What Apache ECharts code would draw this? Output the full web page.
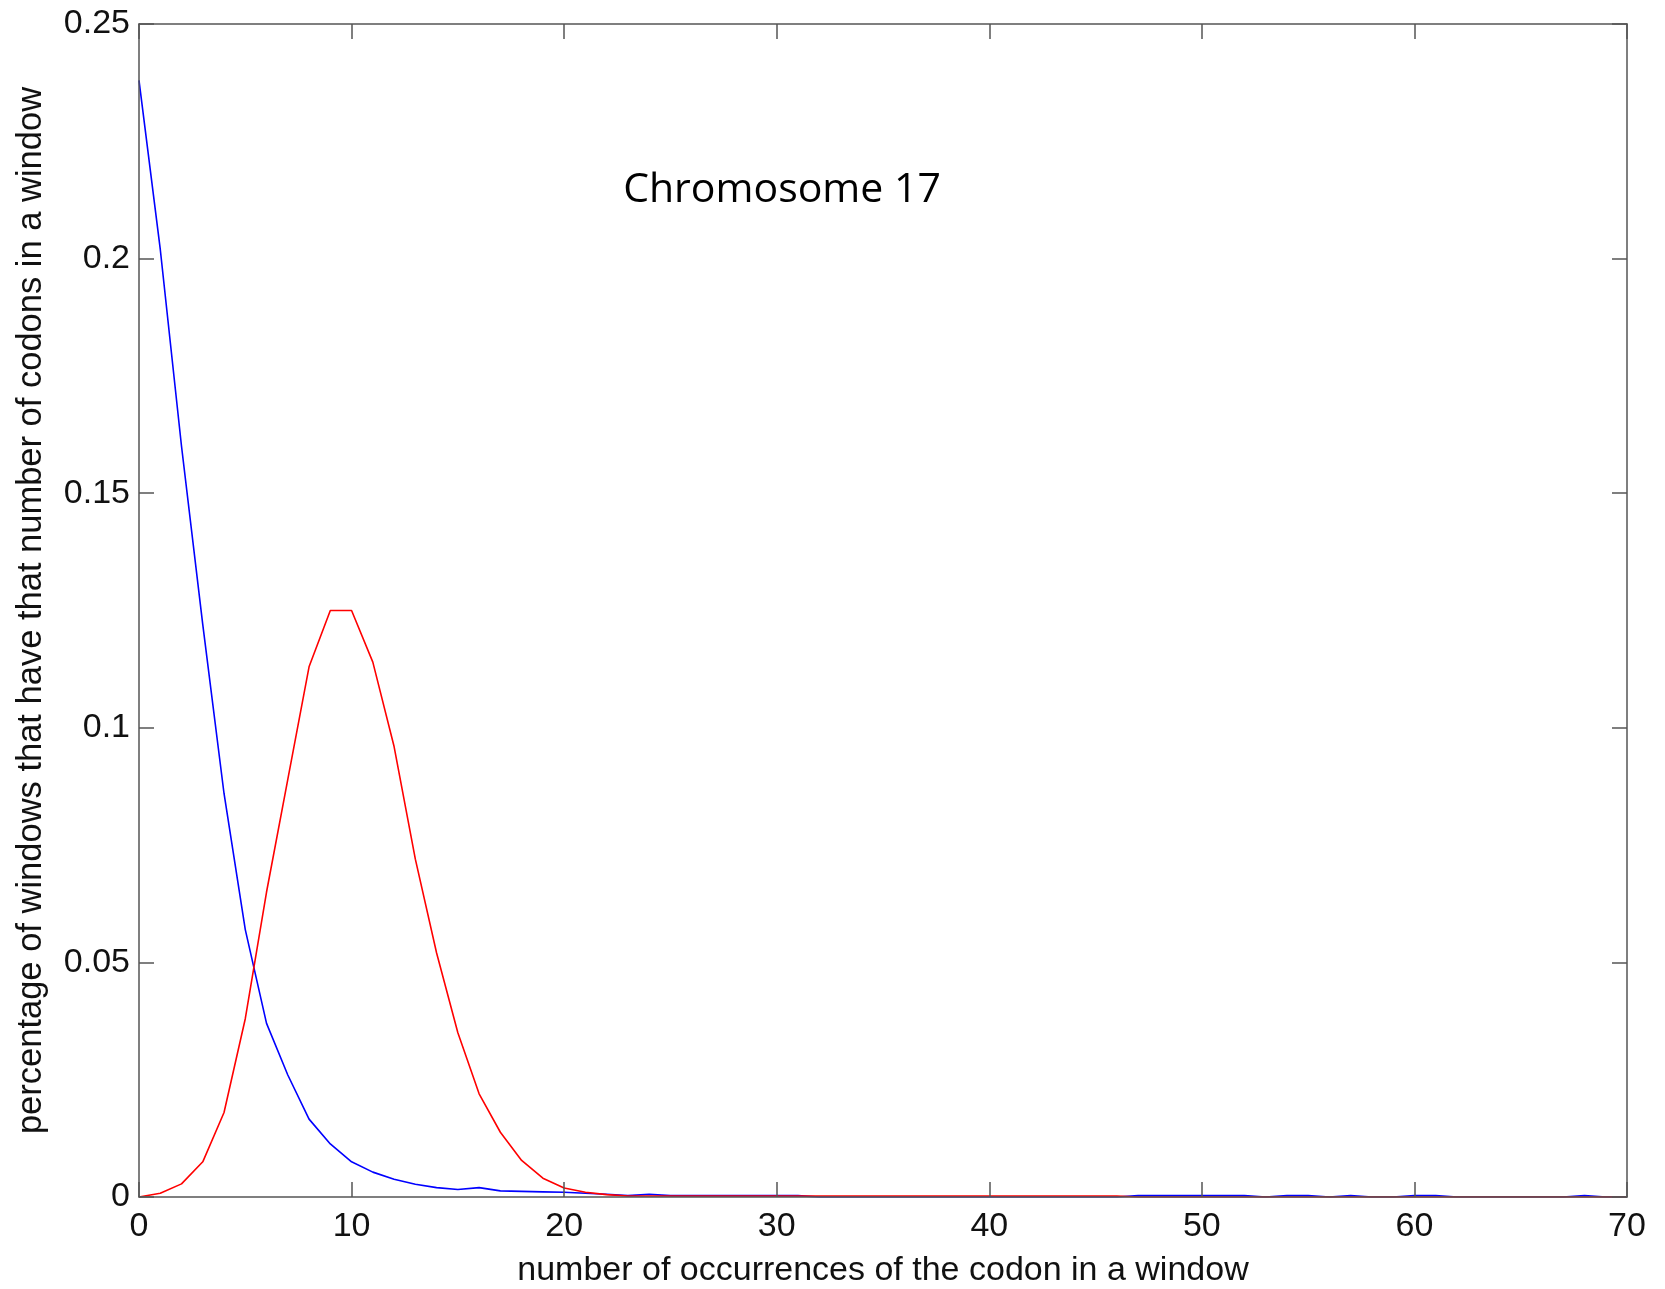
<!DOCTYPE html>
<html>
<head>
<meta charset="utf-8">
<script src="https://cdn.jsdelivr.net/npm/echarts@6/dist/echarts.min.js"></script>
<style>
  html, body { margin: 0; padding: 0; background: #fff; }
  #chart { width: 1665px; height: 1289px; }
</style>
</head>
<body>
<div id="chart"></div>
<script>
// number of occurrences of the codon in a window (x)
var counts = [
  0, 1, 2, 3, 4, 5, 6, 7, 8, 9, 10, 11, 12, 13, 14, 15, 16, 17, 18, 19,
  20, 21, 22, 23, 24, 25, 26, 27, 28, 29, 30, 31, 32, 33, 34, 35, 36, 37, 38, 39,
  40, 41, 42, 43, 44, 45, 46, 47, 48, 49, 50, 51, 52, 53, 54, 55, 56, 57, 58, 59,
  60, 61, 62, 63, 64, 65, 66, 67, 68, 69, 70
];

// blue curve
var blueValues = [
  0.238, 0.202, 0.160, 0.122, 0.086, 0.057, 0.037, 0.026, 0.0166, 0.0113,
  0.0075, 0.0053, 0.0038, 0.0027, 0.0020, 0.0016, 0.0020, 0.0013, 0.0012, 0.0011,
  0.0010, 0.0008, 0.0006, 0.0003, 0.0006, 0.0003, 0.0003, 0.0003, 0.0003, 0.0003,
  0.0003, 0.0003, 0, 0, 0, 0, 0, 0, 0, 0,
  0, 0, 0, 0, 0, 0, 0, 0.0003, 0.0003, 0.0003,
  0.0003, 0.0003, 0.0003, 0, 0.0003, 0.0003, 0, 0.0003, 0, 0,
  0.0003, 0.0003, 0, 0, 0, 0, 0, 0, 0.0003, 0,
  0
];

// red curve
var redValues = [
  0, 0.0008, 0.0028, 0.0075, 0.018, 0.038, 0.065, 0.089, 0.113, 0.125,
  0.125, 0.114, 0.096, 0.072, 0.052, 0.035, 0.022, 0.0138, 0.0078, 0.0040,
  0.0019, 0.0010, 0.0005, 0.0002, 0.0002, 0.0002, 0.0002, 0.0002, 0.0002, 0.0002,
  0.0002, 0.0002, 0.0002, 0.0002, 0.0002, 0.0002, 0.0002, 0.0002, 0.0002, 0.0002,
  0.0002, 0.0002, 0.0002, 0.0002, 0.0002, 0.0002, 0.0002, 0, 0, 0,
  0, 0, 0, 0, 0, 0, 0, 0, 0, 0,
  0, 0, 0, 0, 0, 0, 0, 0, 0, 0,
  0
];

var xTickLabels = ['0', '10', '20', '30', '40', '50', '60', '70'];
var yTickLabels = ['0', '0.05', '0.1', '0.15', '0.2', '0.25'];

function pairs(values) {
  return counts.map(function (c, i) { return [c, values[i]]; });
}

var axisColor = '#555';
var labelFont = 'Liberation Sans, Arial, sans-serif';
var boxLine = { onZero: false, lineStyle: { color: axisColor, width: 1.5 } };
var boxTick = { inside: true, length: 15, lineStyle: { color: axisColor, width: 1.5 } };

var chart = echarts.init(document.getElementById('chart'));

chart.setOption({
  animation: false,
  backgroundColor: '#fff',
  grid: {
    left: 139, right: 38, top: 24, bottom: 92,
    containLabel: false, outerBoundsMode: 'none'
  },
  xAxis: [
    {
      type: 'value', position: 'bottom', min: 0, max: 70, interval: 10, z: 5,
      name: 'number of occurrences of the codon in a window',
      nameLocation: 'middle', nameGap: 57,
      nameTextStyle: { fontFamily: labelFont, fontSize: 34, color: '#111' },
      axisLine: boxLine,
      axisTick: boxTick,
      axisLabel: {
        margin: 13, fontFamily: labelFont, fontSize: 34, color: '#111',
        formatter: function (v) { return xTickLabels[Math.round(v / 10)]; }
      },
      splitLine: { show: false }
    },
    {
      type: 'value', position: 'top', min: 0, max: 70, interval: 10, z: 5,
      axisLine: boxLine,
      axisTick: boxTick,
      axisLabel: { show: false },
      splitLine: { show: false }
    }
  ],
  yAxis: [
    {
      type: 'value', position: 'left', min: 0, max: 0.25, interval: 0.05, z: 5,
      name: 'percentage of windows that have that number of codons in a window',
      nameLocation: 'middle', nameGap: 90,
      nameTextStyle: { fontFamily: labelFont, fontSize: 34.5, color: '#111' },
      axisLine: boxLine,
      axisTick: boxTick,
      axisLabel: {
        margin: 9, fontFamily: labelFont, fontSize: 34, color: '#111',
        formatter: function (v) { return yTickLabels[Math.round(v / 0.05)]; }
      },
      splitLine: { show: false }
    },
    {
      type: 'value', position: 'right', min: 0, max: 0.25, interval: 0.05, z: 5,
      axisLine: { show: true, onZero: false, lineStyle: { color: axisColor, width: 1.5 } },
      axisTick: { show: true, inside: true, length: 15, lineStyle: { color: axisColor, width: 1.5 } },
      axisLabel: { show: false },
      splitLine: { show: false }
    }
  ],
  graphic: [
    {
      type: 'text', x: 782, y: 190,
      style: {
        text: 'Chromosome 17', fill: '#000',
        font: '41px "Open Sans", "Noto Sans", sans-serif',
        textAlign: 'center', textVerticalAlign: 'middle'
      }
    }
  ],
  series: [
    {
      type: 'line', data: pairs(blueValues), showSymbol: false,
      lineStyle: { color: '#0000ff', width: 1.6 }
    },
    {
      type: 'line', data: pairs(redValues), showSymbol: false,
      lineStyle: { color: '#ff0000', width: 1.6 }
    }
  ]
});
</script>
</body>
</html>
